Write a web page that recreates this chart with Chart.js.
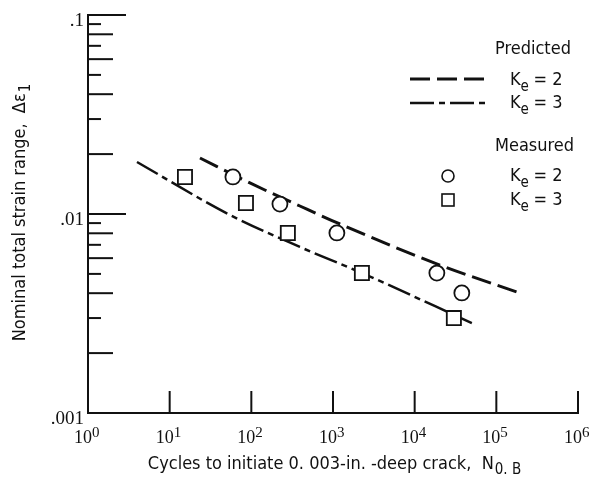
<!DOCTYPE html>
<html>
<head>
<meta charset="utf-8">
<script src="https://cdn.jsdelivr.net/npm/chart.js@4.4.1/dist/chart.umd.min.js"></script>
<style>
    html, body { margin: 0; padding: 0; background: #fff; }
    canvas { display: block; }
</style>
</head>
<body>
<canvas id="chart" width="591" height="481"></canvas>
<script>
// measured points
const cyclesMeasured2 = [59.5, 224, 1116, 18700, 37800];
const strainMeasured2 = [0.01535, 0.01122, 0.00803, 0.00505, 0.00401];
const cyclesMeasured3 = [15.4, 85.9, 280, 2259, 30200];
const strainMeasured3 = [0.01535, 0.01136, 0.00803, 0.00505, 0.0030];

// predicted curves
const cyclesPredicted2 = [23.5, 96.1, 393, 1214, 20350, 194000];
const strainPredicted2 = [0.01912, 0.01432, 0.01097, 0.00891, 0.00554, 0.00401];
const cyclesPredicted3 = [3.98, 54.7, 393, 2259, 50150];
const strainPredicted3 = [0.01825, 0.00989, 0.00683, 0.00505, 0.00283];

// axis ticks
const xMajor = [10, 100, 1000, 10000, 100000, 1000000];
const xLabels = [1, 10, 100, 1000, 10000, 100000, 1000000];
const xExponents = ["0", "1", "2", "3", "4", "5", "6"];
const yMajor = [0.1, 0.01];
const yMinorLong = [0.08, 0.06, 0.04, 0.02, 0.008, 0.006, 0.004, 0.002];
const yMinorShort = [0.09, 0.07, 0.05, 0.03, 0.009, 0.007, 0.005, 0.003];
const yLabels = [0.1, 0.01, 0.001];
const yLabelText = [".1", ".01", ".001"];

const ink = "#111";
const sansFont = "'DejaVu Sans Condensed', 'Liberation Sans Narrow', sans-serif";
const serifFont = "'Liberation Serif', serif";
const dashK2 = [20, 7];
const dashK3 = [24, 5, 6, 5];

function toPoints(xs, ys) {
    return xs.map((x, i) => ({ x: x, y: ys[i] }));
}

// text with a lowered subscript part
function drawSub(ctx, main, sub, x, y, size, align) {
    ctx.font = `${size}px ${sansFont}`;
    let w1 = ctx.measureText(main).width;
    ctx.font = `${size - 3}px ${sansFont}`;
    let w2 = ctx.measureText(sub).width;
    let start = x;
    if (align === "center") start = x - (w1 + w2) / 2;
    ctx.textAlign = "left";
    ctx.textBaseline = "alphabetic";
    ctx.font = `${size}px ${sansFont}`;
    ctx.fillText(main, start, y);
    ctx.font = `${size - 3}px ${sansFont}`;
    ctx.fillText(sub, start + w1 + 1, y + 5);
}

const decorPlugin = {
    id: "decor",
    afterDraw(chart) {
        const { ctx, scales: { x, y } } = chart;
        const left = x.left;
        const bottom = y.bottom;
        ctx.save();
        ctx.strokeStyle = ink;
        ctx.fillStyle = ink;
        ctx.lineWidth = 2;
        ctx.setLineDash([]);

        const yTick = (v, len) => {
            let py = y.getPixelForValue(v);
            ctx.beginPath();
            ctx.moveTo(left, py);
            ctx.lineTo(left + len, py);
            ctx.stroke();
        };
        yMajor.forEach(v => yTick(v, 38));
        yMinorLong.forEach(v => yTick(v, 25));
        yMinorShort.forEach(v => yTick(v, 13));

        xMajor.forEach(v => {
            let px = x.getPixelForValue(v);
            ctx.beginPath();
            ctx.moveTo(px, bottom);
            ctx.lineTo(px, bottom - 22);
            ctx.stroke();
        });

        // y tick labels
        ctx.font = `19px ${serifFont}`;
        ctx.textAlign = "right";
        ctx.textBaseline = "middle";
        yLabels.forEach((v, i) => {
            ctx.fillText(yLabelText[i], left - 4, y.getPixelForValue(v) + 6);
        });

        // x tick labels 10^n
        xLabels.forEach((v, i) => {
            let px = x.getPixelForValue(v);
            ctx.textBaseline = "alphabetic";
            ctx.textAlign = "right";
            ctx.font = `18px ${serifFont}`;
            ctx.fillText("10", px + 4, bottom + 30);
            ctx.textAlign = "left";
            ctx.font = `15px ${serifFont}`;
            ctx.fillText(xExponents[i], px + 4, bottom + 24);
        });

        // axis titles
        drawSub(ctx, "Cycles to initiate 0. 003-in. -deep crack,  N", "0. B", 334, 469, 18, "center");
        ctx.save();
        ctx.translate(25, 213);
        ctx.rotate(-Math.PI / 2);
        drawSub(ctx, "Nominal total strain range,  \u0394\u03b5", "1", 0, 0, 18, "center");
        ctx.restore();

        // legend
        ctx.font = `18px ${sansFont}`;
        ctx.textAlign = "left";
        ctx.textBaseline = "middle";
        ctx.fillText("Predicted", 495, 49);
        ctx.fillText("Measured", 495, 146);

        ctx.lineWidth = 3;
        ctx.setLineDash(dashK2);
        ctx.beginPath();
        ctx.moveTo(410, 79);
        ctx.lineTo(488, 79);
        ctx.stroke();
        ctx.lineWidth = 2.5;
        ctx.setLineDash(dashK3);
        ctx.beginPath();
        ctx.moveTo(410, 103);
        ctx.lineTo(488, 103);
        ctx.stroke();
        ctx.setLineDash([]);

        ctx.lineWidth = 1.6;
        ctx.beginPath();
        ctx.arc(448, 176, 6, 0, Math.PI * 2);
        ctx.stroke();
        ctx.strokeRect(442, 194, 12, 12);

        [[85, "2"], [108, "3"], [181, "2"], [205, "3"]].forEach(([ly, n]) => {
            ctx.textBaseline = "alphabetic";
            ctx.font = `18px ${sansFont}`;
            ctx.fillText("K", 510, ly);
            let kw = ctx.measureText("K").width;
            ctx.font = `15px ${sansFont}`;
            ctx.fillText("e", 510 + kw, ly + 6);
            ctx.font = `18px ${sansFont}`;
            ctx.fillText("= " + n, 510 + kw + 13, ly);
        });
        ctx.restore();
    }
};

new Chart(document.getElementById("chart"), {
    type: "scatter",
    data: {
        datasets: [
            {
                label: "Predicted Ke = 2",
                data: toPoints(cyclesPredicted2, strainPredicted2),
                showLine: true,
                cubicInterpolationMode: "monotone",
                pointRadius: 0,
                borderColor: ink,
                borderWidth: 3,
                borderDash: dashK2,
                order: 3
            },
            {
                label: "Predicted Ke = 3",
                data: toPoints(cyclesPredicted3, strainPredicted3),
                showLine: true,
                cubicInterpolationMode: "monotone",
                pointRadius: 0,
                borderColor: ink,
                borderWidth: 2.5,
                borderDash: dashK3,
                order: 3
            },
            {
                label: "Measured Ke = 2",
                data: toPoints(cyclesMeasured2, strainMeasured2),
                pointStyle: "circle",
                pointRadius: 7.5,
                pointBorderWidth: 1.8,
                pointBackgroundColor: "#fff",
                pointBorderColor: ink,
                order: 1
            },
            {
                label: "Measured Ke = 3",
                data: toPoints(cyclesMeasured3, strainMeasured3),
                pointStyle: "rect",
                pointRadius: 10,
                pointBorderWidth: 1.8,
                pointBackgroundColor: "#fff",
                pointBorderColor: ink,
                order: 1
            }
        ]
    },
    options: {
        responsive: false,
        animation: false,
        layout: { padding: { left: 88, right: 13, top: 15, bottom: 68 } },
        plugins: { legend: { display: false }, tooltip: { enabled: false } },
        scales: {
            x: {
                type: "logarithmic",
                min: 1,
                max: 1000000,
                grid: { display: false, drawTicks: false },
                ticks: { display: false },
                border: { display: true, color: ink, width: 2 }
            },
            y: {
                type: "logarithmic",
                min: 0.001,
                max: 0.1,
                grid: { display: false, drawTicks: false },
                ticks: { display: false },
                border: { display: true, color: ink, width: 2 }
            }
        }
    },
    plugins: [decorPlugin]
});
</script>
</body>
</html>
